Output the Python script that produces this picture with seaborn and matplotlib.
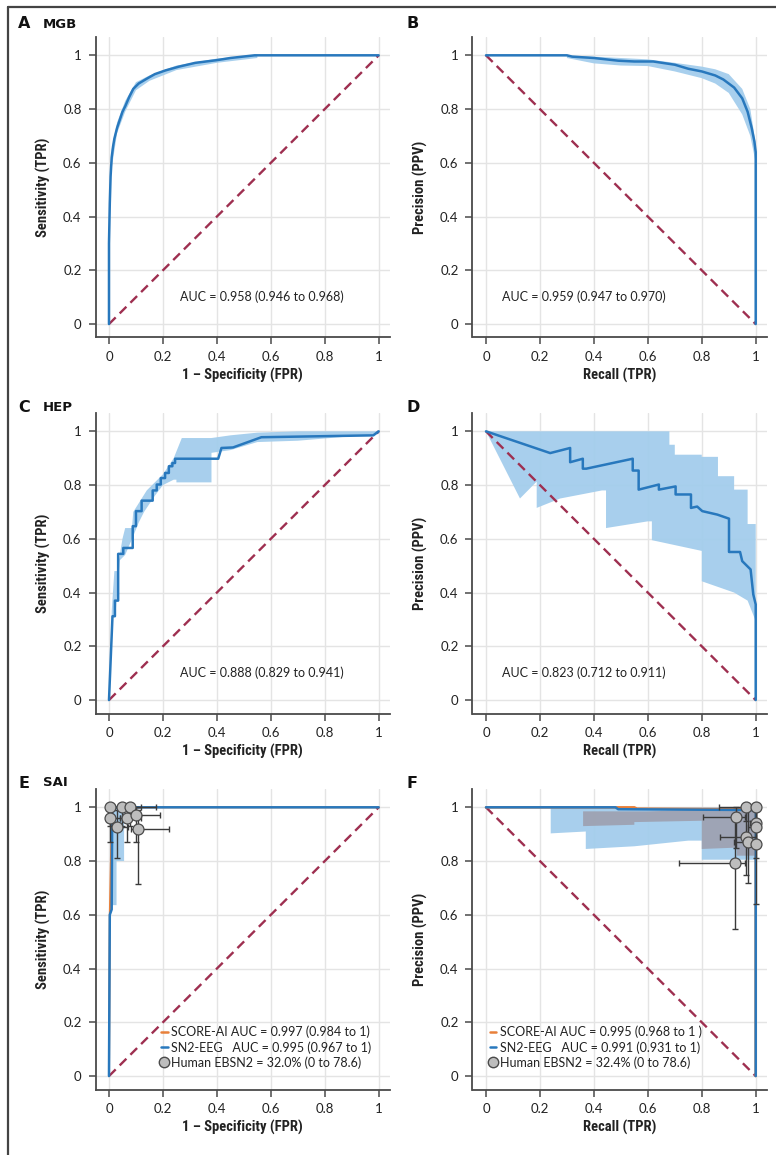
import numpy as np
import pandas as pd
import matplotlib
matplotlib.use("Agg")
import matplotlib.pyplot as plt
import seaborn as sns
from matplotlib import font_manager
from matplotlib.lines import Line2D

# ---------------- data ----------------
tick_vals = [0, 0.2, 0.4, 0.6, 0.8, 1]
tick_labels = ["0", "0.2", "0.4", "0.6", "0.8", "1"]

# A: MGB ROC
mgb_fpr = [0, 0.000, 0.003, 0.006, 0.010, 0.015, 0.020, 0.030, 0.040, 0.050, 0.060, 0.075, 0.090,
           0.110, 0.140, 0.170, 0.210, 0.260, 0.320, 0.400, 0.450, 0.540, 0.700, 1.0]
mgb_tpr = [0, 0.30, 0.45, 0.55, 0.62, 0.66, 0.69, 0.73, 0.76, 0.79, 0.81, 0.845, 0.875,
           0.895, 0.913, 0.93, 0.944, 0.958, 0.972, 0.982, 0.99, 1.0, 1.0, 1.0]
mgb_roc_band_x = [0.010, 0.030, 0.060, 0.100, 0.150, 0.250, 0.400, 0.550]
mgb_roc_band_lo = [0.58, 0.71, 0.79, 0.87, 0.905, 0.945, 0.972, 0.99]
mgb_roc_band_hi = [0.65, 0.75, 0.83, 0.90, 0.925, 0.962, 0.988, 1.00]

# B: MGB PR
mgb_rec = [0, 0.30, 0.32, 0.40, 0.49, 0.55, 0.62, 0.70, 0.75, 0.80, 0.85, 0.88, 0.92, 0.95,
           0.97, 0.985, 0.995, 1.0, 1.0]
mgb_ppv = [1, 1.0, 0.995, 0.99, 0.98, 0.977, 0.977, 0.965, 0.95, 0.94, 0.925, 0.91, 0.88, 0.84,
           0.79, 0.73, 0.68, 0.64, 0.0]
mgb_pr_band_x = [0.30, 0.40, 0.50, 0.60, 0.70, 0.80, 0.85, 0.90, 0.95, 0.98, 1.00]
mgb_pr_band_lo = [0.99, 0.97, 0.962, 0.96, 0.94, 0.915, 0.895, 0.86, 0.78, 0.70, 0.60]
mgb_pr_band_hi = [1.00, 0.995, 0.99, 0.985, 0.972, 0.958, 0.948, 0.93, 0.875, 0.80, 0.67]

# C: HEP ROC
hep_fpr = [0, 0.013, 0.022, 0.022, 0.034, 0.034, 0.053, 0.053, 0.088, 0.088, 0.100, 0.100, 0.121,
           0.121, 0.162, 0.162, 0.177, 0.177, 0.192, 0.192, 0.208, 0.208, 0.222, 0.222, 0.235,
           0.235, 0.245, 0.245, 0.405, 0.417, 0.460, 0.565, 0.980, 1.0]
hep_tpr = [0, 0.312, 0.312, 0.37, 0.37, 0.544, 0.544, 0.566, 0.566, 0.647, 0.647, 0.703, 0.703,
           0.742, 0.742, 0.78, 0.78, 0.802, 0.802, 0.826, 0.826, 0.845, 0.845, 0.87, 0.87,
           0.882, 0.882, 0.898, 0.898, 0.938, 0.94, 0.978, 0.985, 1.0]
hep_roc_hi_x = [0.010, 0.020, 0.030, 0.050, 0.060, 0.085, 0.090, 0.115, 0.140, 0.160, 0.200,
                0.240, 0.270, 0.380, 0.450, 0.550, 0.700, 1.000]
hep_roc_hi_y = [0.330, 0.480, 0.480, 0.600, 0.640, 0.640, 0.700, 0.740, 0.780, 0.800, 0.840,
                0.900, 0.975, 0.975, 0.985, 0.995, 1.000, 1.000]
hep_roc_lo_x = [0.010, 0.025, 0.040, 0.060, 0.090, 0.110, 0.130, 0.170, 0.200, 0.240, 0.250,
                0.250, 0.380, 0.380, 0.450, 0.550, 0.700, 1.000]
hep_roc_lo_y = [0.300, 0.330, 0.520, 0.540, 0.610, 0.660, 0.700, 0.760, 0.800, 0.820, 0.820,
                0.810, 0.810, 0.920, 0.930, 0.960, 0.965, 0.990]

# D: HEP PR
hep_rec = [0, 0.238, 0.312, 0.312, 0.359, 0.359, 0.372, 0.544, 0.544, 0.566, 0.566, 0.641, 0.641,
           0.703, 0.703, 0.760, 0.760, 0.783, 0.802, 0.858, 0.901, 0.901, 0.942, 0.950, 0.981,
           0.991, 1.0, 1.0]
hep_ppv = [1, 0.919, 0.938, 0.885, 0.898, 0.861, 0.861, 0.898, 0.854, 0.854, 0.783, 0.802, 0.783,
           0.795, 0.765, 0.765, 0.715, 0.72, 0.703, 0.69, 0.675, 0.551, 0.551, 0.517, 0.486,
           0.393, 0.356, 0.0]
hep_pr_hi_x = [0.0, 0.68, 0.68, 0.70, 0.70, 0.80, 0.80, 0.86, 0.86, 0.92, 0.92, 0.97, 0.97, 1.0]
hep_pr_hi_y = [1.0, 1.0, 0.95, 0.95, 0.913, 0.913, 0.905, 0.905, 0.833, 0.833, 0.783, 0.783,
               0.655, 0.655]
hep_pr_lo_x = [0.0, 0.126, 0.188, 0.188, 0.275, 0.430, 0.445, 0.445, 0.600, 0.615, 0.615, 0.800,
               0.800, 0.920, 0.970, 1.0]
hep_pr_lo_y = [1.0, 0.75, 0.813, 0.715, 0.75, 0.78, 0.78, 0.64, 0.665, 0.665, 0.595, 0.555,
               0.442, 0.40, 0.37, 0.294]

# E: SAI ROC
sai_score_fpr = [0, 0.003, 0.011, 1.0]
sai_score_tpr = [0, 0.60, 1.0, 1.0]
sai_sn2_fpr = [0, 0.003, 0.010, 0.012, 1.0]
sai_sn2_tpr = [0, 0.60, 0.62, 1.0, 1.0]
sai_roc_hi_x = [0.004, 0.056]
sai_roc_hi_y = [1.0, 1.0]
sai_roc_lo_x = [0.004, 0.010, 0.028, 0.028, 0.056]
sai_roc_lo_y = [0.60, 0.636, 0.636, 0.80, 0.80]
hum_fpr = [0.004, 0.049, 0.078, 0.004, 0.068, 0.100, 0.031, 0.109]
hum_tpr = [1.000, 1.000, 1.000, 0.960, 0.960, 0.970, 0.927, 0.921]
hum_fpr_lo = [0.000, 0.020, 0.040, 0.000, 0.040, 0.070, 0.010, 0.080]
hum_fpr_hi = [0.040, 0.120, 0.176, 0.040, 0.120, 0.190, 0.070, 0.222]
hum_tpr_lo = [0.930, 0.930, 0.930, 0.870, 0.870, 0.870, 0.810, 0.714]
hum_tpr_hi = [1.000, 1.000, 1.000, 1.000, 1.000, 1.000, 0.990, 0.990]

# F: SAI PR
sai_score_rec = [0, 0.55, 0.56, 0.97, 1.0, 1.0]
sai_score_ppv = [1, 1.0, 0.995, 0.993, 0.99, 0.0]
sai_sn2_rec = [0, 0.48, 0.49, 0.99, 1.0, 1.0]
sai_sn2_ppv = [1, 1.0, 0.993, 0.99, 0.98, 0.0]
sai_pr_blue_hi_x = [0.24, 1.0]
sai_pr_blue_hi_y = [1.0, 1.0]
sai_pr_blue_lo_x = [0.24, 0.37, 0.37, 0.55, 0.75, 0.80, 0.80, 1.0]
sai_pr_blue_lo_y = [0.903, 0.91, 0.845, 0.855, 0.876, 0.876, 0.805, 0.805]
sai_pr_gray_hi_x = [0.36, 0.60, 0.80, 1.0]
sai_pr_gray_hi_y = [0.985, 0.985, 0.99, 0.99]
sai_pr_gray_lo_x = [0.36, 0.55, 0.55, 0.80, 0.80, 0.93, 0.93, 1.0]
sai_pr_gray_lo_y = [0.93, 0.935, 0.945, 0.95, 0.845, 0.85, 0.82, 0.82]
hum_rec = [0.963, 1.000, 0.926, 1.000, 1.000, 0.963, 0.970, 1.000, 0.923]
hum_ppv = [1.000, 1.000, 0.963, 0.940, 0.926, 0.890, 0.870, 0.865, 0.793]
hum_rec_lo = [0.864, 0.980, 0.805, 0.980, 0.970, 0.867, 0.920, 0.970, 0.715]
hum_rec_hi = [1.000, 1.000, 0.960, 1.000, 1.000, 1.000, 1.000, 1.000, 0.960]
hum_ppv_lo = [0.950, 0.950, 0.850, 0.810, 0.860, 0.747, 0.718, 0.642, 0.546]
hum_ppv_hi = [1.000, 1.000, 1.000, 1.000, 1.000, 0.990, 0.990, 0.990, 0.960]

# ---------------- style ----------------
sns.set_theme(style="white")
avail = {f.name for f in font_manager.fontManager.ttflist}


def pick(*names):
    for n in names:
        if n in avail:
            return n
    return "DejaVu Sans"


LABEL_FONT = pick("Liberation Sans Narrow", "Roboto Condensed", "Open Sans")
TEXT_FONT = pick("Lato", "Open Sans")
plt.rcParams['font.family'] = [TEXT_FONT, 'DejaVu Sans']

BLUE = '#2878bd'
BAND = '#a3cdec'
ORANGE = '#e8803a'
DIAG = '#9e2f50'
GRID = '#e4e4e4'
SPINE = '#4a4a4a'

W, H = 776, 1155
fig = plt.figure(figsize=(W / 100, H / 100), dpi=100)


def px_axes(left_px, bottom_px, w_px=294, h_px=301):
    return fig.add_axes([left_px / W, 1 - bottom_px / H, w_px / W, h_px / H])


def style(ax, xlabel, ylabel):
    ax.set_xlim(-0.05, 1.04)
    ax.set_ylim(-0.05, 1.07)
    ax.set_xticks(tick_vals)
    ax.set_yticks(tick_vals)
    ax.set_xticklabels(tick_labels)
    ax.set_yticklabels(tick_labels)
    ax.grid(True, color=GRID, lw=1.0, zorder=0)
    ax.set_axisbelow(True)
    for s in ['top', 'right']:
        ax.spines[s].set_visible(False)
    for s in ['left', 'bottom']:
        ax.spines[s].set_color(SPINE)
        ax.spines[s].set_linewidth(1.3)
    ax.tick_params(direction='out', length=5, width=1.1, color=SPINE, labelsize=9.5,
                   labelcolor='#222222', pad=5, bottom=True, left=True)
    ax.set_xlabel(xlabel, fontfamily=[LABEL_FONT, 'DejaVu Sans'], fontweight='bold',
                  fontsize=10.5, color='#222222')
    ax.set_ylabel(ylabel, fontfamily=[LABEL_FONT, 'DejaVu Sans'], fontweight='bold',
                  fontsize=10.5, color='#222222')
    ax.xaxis.set_label_coords(0.5, -0.102)
    ax.yaxis.set_label_coords(-0.152, 0.5)


def curve(ax, x, y, color=BLUE, lw=1.8, z=3):
    sns.lineplot(x=x, y=y, sort=False, estimator=None, ax=ax, color=color, lw=lw, zorder=z)


def band(ax, xl, yl, xh, yh, color=BAND, alpha=0.95, z=1):
    px = list(xh) + list(xl)[::-1]
    py = list(yh) + list(yl)[::-1]
    ax.fill(px, py, color=color, alpha=alpha, lw=0, zorder=z)


def diag(ax, roc=True):
    xs = [0, 1]
    ys = [0, 1] if roc else [1, 0]
    sns.lineplot(x=xs, y=ys, ax=ax, color=DIAG, lw=1.7, linestyle=(0, (4, 2.4)), zorder=2)


ROC_X = "1 \u2013 Specificity (FPR)"
ROC_Y = "Sensitivity (TPR)"
PR_X = "Recall (TPR)"
PR_Y = "Precision (PPV)"

LEFT_A, LEFT_B = 95.5, 472.5
BOTTOMS = [337.5, 713.5, 1089.5]

# ---- A ----
axA = px_axes(LEFT_A, BOTTOMS[0])
band(axA, mgb_roc_band_x, mgb_roc_band_lo, mgb_roc_band_x, mgb_roc_band_hi)
diag(axA, True)
curve(axA, mgb_fpr, mgb_tpr)
style(axA, ROC_X, ROC_Y)
axA.text(0.263, 0.10, "AUC = 0.958 (0.946 to 0.968)", fontsize=9, color='#222222', va='center')

# ---- B ----
axB = px_axes(LEFT_B, BOTTOMS[0])
band(axB, mgb_pr_band_x, mgb_pr_band_lo, mgb_pr_band_x, mgb_pr_band_hi)
diag(axB, False)
curve(axB, mgb_rec, mgb_ppv)
style(axB, PR_X, PR_Y)
axB.text(0.06, 0.10, "AUC = 0.959 (0.947 to 0.970)", fontsize=9, color='#222222', va='center')

# ---- C ----
axC = px_axes(LEFT_A, BOTTOMS[1])
band(axC, hep_roc_lo_x, hep_roc_lo_y, hep_roc_hi_x, hep_roc_hi_y)
diag(axC, True)
curve(axC, hep_fpr, hep_tpr)
style(axC, ROC_X, ROC_Y)
axC.text(0.263, 0.10, "AUC = 0.888 (0.829 to 0.941)", fontsize=9, color='#222222', va='center')

# ---- D ----
axD = px_axes(LEFT_B, BOTTOMS[1])
band(axD, hep_pr_lo_x, hep_pr_lo_y, hep_pr_hi_x, hep_pr_hi_y)
diag(axD, False)
curve(axD, hep_rec, hep_ppv)
style(axD, PR_X, PR_Y)
axD.text(0.058, 0.10, "AUC = 0.823 (0.712 to 0.911)", fontsize=9, color='#222222', va='center')


def human(ax, x, y, xlo, xhi, ylo, yhi):
    x = np.asarray(x); y = np.asarray(y)
    xerr = [x - np.asarray(xlo), np.asarray(xhi) - x]
    yerr = [y - np.asarray(ylo), np.asarray(yhi) - y]
    ax.errorbar(x, y, xerr=xerr, yerr=yerr, fmt='none', ecolor='#3a3a3a', elinewidth=1.0,
                capsize=2.5, capthick=1.0, zorder=4)
    sns.scatterplot(x=x, y=y, ax=ax, s=62, color='#bdbdbd', edgecolor='#4a4a4a', linewidth=0.9,
                    zorder=5, legend=False)


def sai_legend(ax, x0, labels):
    handles = [Line2D([0], [0], color=ORANGE, lw=1.8),
               Line2D([0], [0], color=BLUE, lw=1.8),
               Line2D([0], [0], marker='o', color='none', markerfacecolor='#bdbdbd',
                      markeredgecolor='#4a4a4a', markersize=7.5)]
    leg = ax.legend(handles, labels, loc='upper left', bbox_to_anchor=(x0, 0.212),
                    frameon=False, fontsize=9, handlelength=0.55, handletextpad=0.3,
                    labelspacing=0.22, borderaxespad=0, borderpad=0)
    for t in leg.get_texts():
        t.set_color('#222222')


# ---- E ----
axE = px_axes(LEFT_A, BOTTOMS[2])
band(axE, sai_roc_lo_x, sai_roc_lo_y, sai_roc_hi_x, sai_roc_hi_y)
diag(axE, True)
curve(axE, sai_score_fpr, sai_score_tpr, color=ORANGE, lw=1.4)
curve(axE, sai_sn2_fpr, sai_sn2_tpr)
human(axE, hum_fpr, hum_tpr, hum_fpr_lo, hum_fpr_hi, hum_tpr_lo, hum_tpr_hi)
style(axE, ROC_X, ROC_Y)
sai_legend(axE, 0.222, ["SCORE-AI AUC = 0.997 (0.984 to 1)",
                        "SN2-EEG   AUC = 0.995 (0.967 to 1)",
                        "Human EBSN2 = 32.0% (0 to 78.6)"])

# ---- F ----
axF = px_axes(LEFT_B, BOTTOMS[2])
band(axF, sai_pr_blue_lo_x, sai_pr_blue_lo_y, sai_pr_blue_hi_x, sai_pr_blue_hi_y)
band(axF, sai_pr_gray_lo_x, sai_pr_gray_lo_y, sai_pr_gray_hi_x, sai_pr_gray_hi_y,
     color='#9d9dab', alpha=0.85, z=1.5)
diag(axF, False)
curve(axF, sai_score_rec, sai_score_ppv, color=ORANGE)
curve(axF, sai_sn2_rec, sai_sn2_ppv)
human(axF, hum_rec, hum_ppv, hum_rec_lo, hum_rec_hi, hum_ppv_lo, hum_ppv_hi)
style(axF, PR_X, PR_Y)
sai_legend(axF, 0.058, ["SCORE-AI AUC = 0.995 (0.968 to 1 )",
                        "SN2-EEG   AUC = 0.991 (0.931 to 1)",
                        "Human EBSN2 = 32.4% (0 to 78.6)"])

# ---- panel headers ----
heads = [("A", "MGB", 24), ("C", "HEP", 407), ("E", "SAI", 783)]
for letter, name, ypx in heads:
    fig.text(18 / W, 1 - ypx / H, letter, fontsize=11.5, fontweight='bold', va='center',
             color='#111111', family=['DejaVu Sans'])
    fig.text(43 / W, 1 - ypx / H, name, fontsize=9.5, fontweight='bold', va='center',
             color='#111111', family=['DejaVu Sans'])
for letter, ypx in [("B", 24), ("D", 407), ("F", 783)]:
    fig.text(407 / W, 1 - ypx / H, letter, fontsize=11.5, fontweight='bold', va='center',
             color='#111111', family=['DejaVu Sans'])

# figure frame (top and left rules)
fig.add_artist(Line2D([8 / W, 1.0], [1 - 7 / H, 1 - 7 / H], color='#444444', lw=1.6,
                      transform=fig.transFigure))
fig.add_artist(Line2D([8 / W, 8 / W], [0, 1 - 7 / H], color='#444444', lw=1.6,
                      transform=fig.transFigure))

fig.savefig("out.png", dpi=100)
